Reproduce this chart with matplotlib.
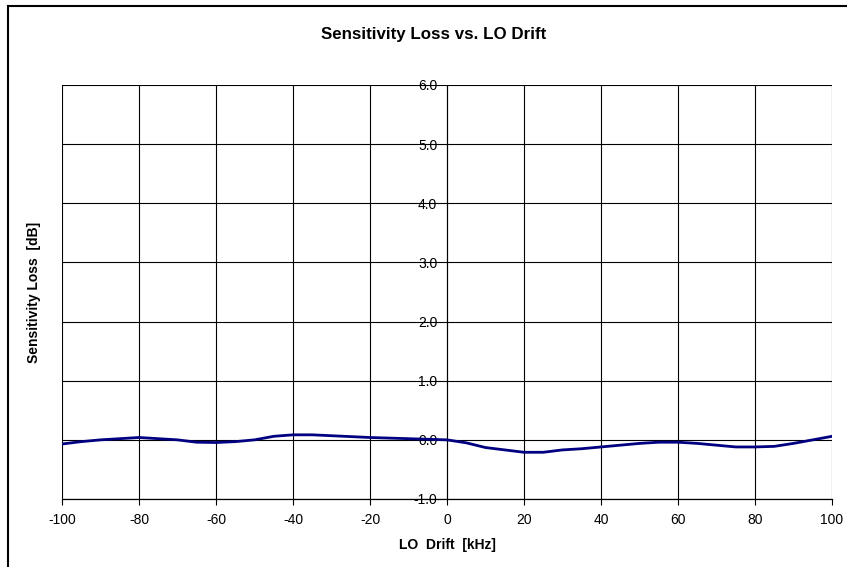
import matplotlib.pyplot as plt
from matplotlib.lines import Line2D

plt.rcParams['font.family'] = ['Liberation Sans', 'DejaVu Sans']
plt.rcParams['axes.unicode_minus'] = False

# LO drift in kHz, sensitivity loss in dB
drift_khz = [-100, -95, -90, -85, -80, -75, -70, -65, -60, -55, -50,
             -45, -40, -35, -30, -25, -20, -15, -10, -5, 0,
             5, 10, 15, 20, 25, 30, 35, 40, 45, 50,
             55, 60, 65, 70, 75, 80, 85, 90, 95, 100]
loss_db = [-0.07, -0.03, 0.0, 0.02, 0.04, 0.02, 0.0, -0.04, -0.045, -0.03, 0.0,
           0.06, 0.085, 0.085, 0.07, 0.055, 0.04, 0.03, 0.02, 0.01, 0.0,
           -0.05, -0.13, -0.17, -0.21, -0.21, -0.17, -0.15, -0.12, -0.09, -0.06,
           -0.04, -0.04, -0.06, -0.09, -0.12, -0.12, -0.11, -0.06, 0.0, 0.06]

x_ticks = list(range(-100, 101, 20))
y_ticks = [-1, 0, 1, 2, 3, 4, 5, 6]

W, H = 847, 567
fig = plt.figure(figsize=(W / 100, H / 100), dpi=100)
ax = fig.add_axes([62 / W, 1 - 499 / H, 770 / W, 414 / H])

ax.plot(drift_khz, loss_db, color='#000080', linewidth=2, zorder=3)

ax.set_xlim(-100, 100)
ax.set_ylim(-1, 6)
ax.set_xticks(x_ticks)
ax.set_yticks(y_ticks)
ax.set_yticklabels([f"{v:.1f}" for v in y_ticks])
ax.grid(True, color='black', linewidth=0.8)
ax.set_axisbelow(True)

# y axis crosses at x = 0, like the original
ax.spines['left'].set_position(('data', 0))
ax.spines['left'].set_zorder(2)
for s in ['top', 'right']:
    ax.spines[s].set_visible(False)
ax.spines['bottom'].set_linewidth(0.9)

ax.tick_params(axis='x', direction='out', length=4, width=0.8, labelsize=10, pad=6)
ax.tick_params(axis='y', length=0, labelsize=10, pad=7)

ax.set_xlabel("LO  Drift  [kHz]", fontsize=10, fontweight='bold', labelpad=8)
fig.text(34 / W, 1 - 292 / H, "Sensitivity Loss  [dB]", fontsize=10,
         fontweight='bold', rotation=90, ha='center', va='center')
fig.text(434 / W, 1 - 34 / H, "Sensitivity Loss vs. LO Drift", fontsize=12.2,
         fontweight='bold', ha='center', va='center')

# chart frame (clipped at right and bottom)
fig.add_artist(Line2D([8 / W, 8 / W], [0, 1 - 6 / H], color='black', linewidth=1.5))
fig.add_artist(Line2D([8 / W, 1], [1 - 6 / H, 1 - 6 / H], color='black', linewidth=1.5))

fig.savefig("out.png", dpi=100)
